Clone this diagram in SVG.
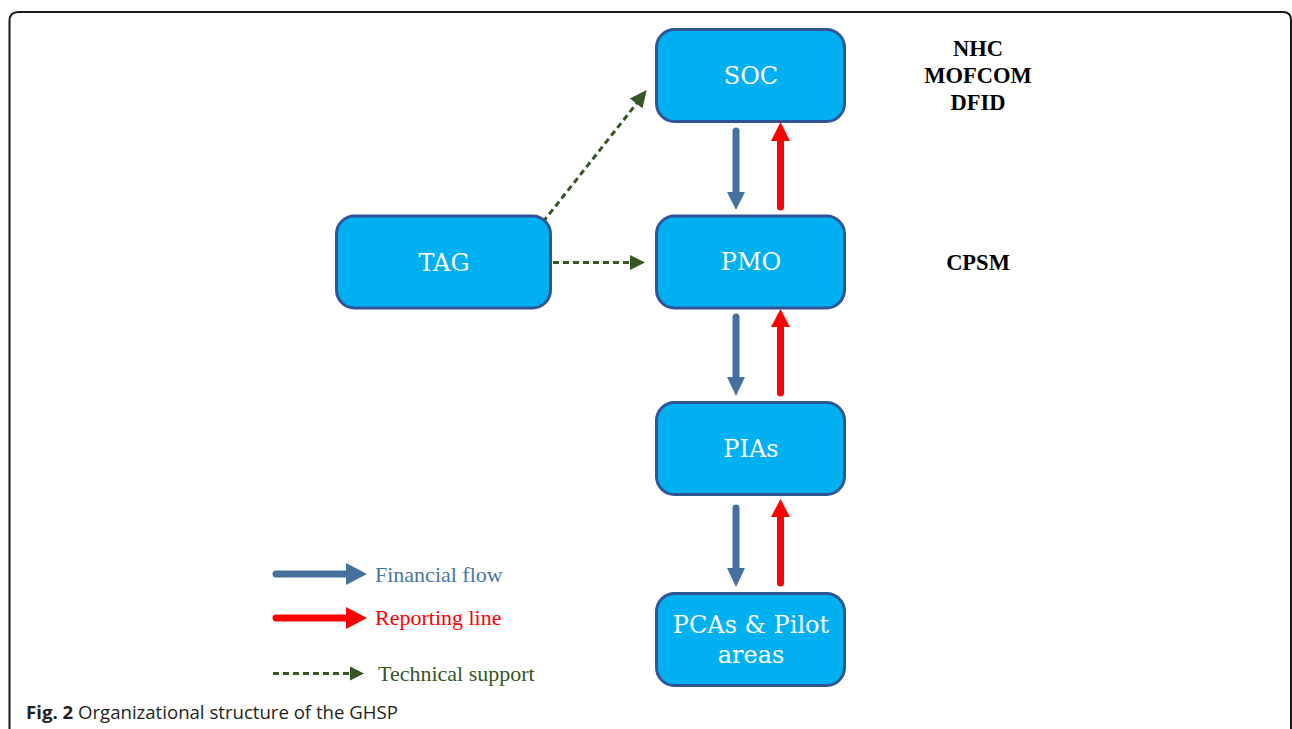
<svg xmlns="http://www.w3.org/2000/svg" width="1292" height="729" viewBox="0 0 1292 729">
<style>
.box{fill:#00B0F0;stroke:#2F5597;stroke-width:3}
.nt{font-family:"DejaVu Serif",serif;font-size:24px;fill:#fff;text-anchor:middle}
.org{font-family:"Liberation Serif",serif;font-weight:bold;font-size:22.5px;fill:#000;text-anchor:middle}
.leg{font-family:"Liberation Serif",serif;font-size:22px}
.fin{stroke:#44729D;stroke-width:7;stroke-linecap:round;fill:none}
.rep{stroke:#FF0000;stroke-width:7;stroke-linecap:round;fill:none}
.tec{stroke:#375623;stroke-width:3;stroke-dasharray:6 4;fill:none}
.hf{fill:#44729D}
.hr{fill:#FF0000}
.ht{fill:#375623}
</style>
<rect width="1292" height="729" fill="#fff"/>
<path d="M9.5,740 V21 Q9.5,12 18.5,12 H1283 Q1291,12 1291,20 V740" fill="none" stroke="#1a1a1a" stroke-width="2"/>

<g id="connectors">
<path class="fin" d="M736,131 V193"/><polygon class="hf" points="727,192 745,192 736,210"/>
<path class="rep" d="M780.5,207 V140"/><polygon class="hr" points="771,141 790,141 780.5,122"/>
<path class="fin" d="M736,317 V378"/><polygon class="hf" points="727,377 745,377 736,396"/>
<path class="rep" d="M780.5,393 V326"/><polygon class="hr" points="771,327 790,327 780.5,309"/>
<path class="fin" d="M736,508 V569"/><polygon class="hf" points="727,568 745,568 736,587"/>
<path class="rep" d="M780.5,583 V516"/><polygon class="hr" points="771,517 790,517 780.5,499"/>
<path class="tec" d="M553,262.5 H631"/><polygon class="ht" points="630,255 630,270 645,262.5"/>
<path class="tec" d="M543,222 L637,103"/><polygon class="ht" points="642.5,108.3 629.9,98.5 646.7,90"/>
</g>

<g id="SOC"><rect class="box" x="656.5" y="29.5" width="188" height="92" rx="18"/><text class="nt" x="751" y="84">SOC</text></g>
<g id="PMO"><rect class="box" x="656.5" y="216" width="188" height="92" rx="18"/><text class="nt" x="751" y="270">PMO</text></g>
<g id="PIAs"><rect class="box" x="656.5" y="402.5" width="188" height="92" rx="18"/><text class="nt" x="751" y="457">PIAs</text></g>
<g id="PCAs"><rect class="box" x="656.5" y="593.5" width="188" height="92" rx="18"/><text class="nt" x="751" y="633">PCAs &amp; Pilot</text><text class="nt" x="751" y="663">areas</text></g>
<g id="TAG"><rect class="box" x="336.5" y="216" width="214" height="92" rx="18"/><text class="nt" x="444" y="271">TAG</text></g>

<g id="orgs">
<text class="org" x="978" y="56">NHC</text>
<text class="org" x="978" y="83">MOFCOM</text>
<text class="org" x="978" y="110">DFID</text>
<text class="org" x="978" y="270">CPSM</text>
</g>

<g id="legend">
<path class="fin" d="M276,574 H347"/><polygon class="hf" points="346,563 346,585 367,574"/>
<text class="leg" x="375" y="582" fill="#4A76A8">Financial flow</text>
<path class="rep" d="M276,618 H347"/><polygon class="hr" points="346,607 346,629 367,618"/>
<text class="leg" x="375" y="625" fill="#FF0000">Reporting line</text>
<path class="tec" d="M273,673.5 H351"/><polygon class="ht" points="350,666.5 350,680.5 364,673.5"/>
<text class="leg" x="378" y="681" fill="#375623">Technical support</text>
</g>

<text x="26" y="719" font-family="'Open Sans',sans-serif" font-size="18.6" fill="#231f20"><tspan font-weight="bold">Fig. 2</tspan> Organizational structure of the GHSP</text>
</svg>
